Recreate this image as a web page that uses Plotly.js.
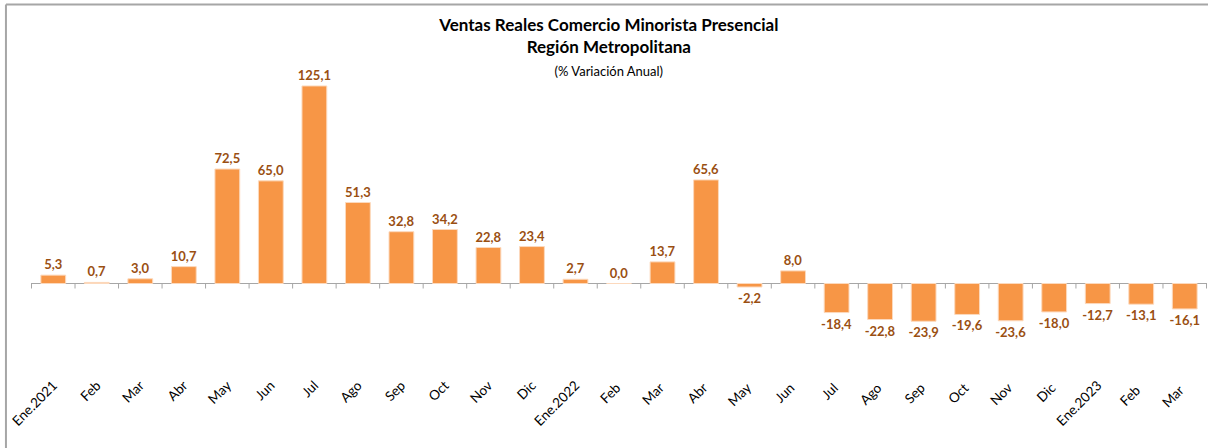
<!DOCTYPE html>
<html>
<head>
<meta charset="utf-8">
<script src="https://cdn.plot.ly/plotly-3.0.1.min.js"></script>
<style>html,body{margin:0;padding:0;background:#fff;}#chart{width:1208px;height:448px;}</style>
</head>
<body>
<div id="chart"></div>
<script>
const categories = ["Ene.2021","Feb","Mar","Abr","May","Jun","Jul","Ago","Sep","Oct","Nov","Dic",
  "Ene.2022","Feb ","Mar ","Abr ","May ","Jun ","Jul ","Ago ","Sep ","Oct ","Nov ","Dic ",
  "Ene.2023","Feb  ","Mar  "];
const values = [5.3,0.7,3.0,10.7,72.5,65.0,125.1,51.3,32.8,34.2,22.8,23.4,
  2.7,0.0,13.7,65.6,-2.2,8.0,-18.4,-22.8,-23.9,-19.6,-23.6,-18.0,
  -12.7,-13.1,-16.1];
const labels = values.map(v => v.toFixed(1).replace('.', ','));

const trace = {
  type: 'bar',
  x: categories,
  y: values,
  text: labels,
  textposition: 'outside',
  constraintext: 'none',
  cliponaxis: false,
  textfont: {family: 'Lato, "Open Sans", sans-serif', size: 13, color: '#9A4F12', weight: 'bold'},
  marker: {color: '#F79646', line: {color: '#FCD9BD', width: 1}},
  hoverinfo: 'x+y'
};

const tickShapes = [];
for (let i = 0; i <= categories.length; i++) {
  tickShapes.push({
    type: 'line', xref: 'x', yref: 'y', x0: i - 0.5, x1: i - 0.5,
    ysizemode: 'pixel', yanchor: 0, y0: 0, y1: -5,
    line: {color: '#A6A6A6', width: 1}
  });
}
const borderShapes = [
  {type:'line', xref:'paper', yref:'paper', x0:-0.0213, x1:1.01, y0:1.2198, y1:1.2198, line:{color:'#A6A6A6', width:2}},
  {type:'line', xref:'paper', yref:'paper', x0:-0.0213, x1:-0.0213, y0:1.2198, y1:-0.3, line:{color:'#A6A6A6', width:2}}
];

const layout = {
  width: 1208, height: 448,
  margin: {l: 31, r: 1, t: 70, b: 80},
  paper_bgcolor: '#fff', plot_bgcolor: '#fff',
  separators: ',.',
  showlegend: false,
  bargap: 0.43,
  font: {family: 'Lato, "Open Sans", sans-serif', color: '#000'},
  title: {
    text: '<b>Ventas Reales Comercio Minorista Presencial<br>Región Metropolitana</b><br><span style="font-size:13px">(% Variación Anual)</span>',
    font: {family: 'Lato, "Open Sans", sans-serif', size: 17, color: '#000'},
    x: 0.504, xref: 'container', xanchor: 'center',
    y: 0.93, yref: 'container', yanchor: 'top'
  },
  xaxis: {
    type: 'category',
    tickangle: -45,
    tickfont: {size: 13.5, color: '#000'},
    ticklabelstandoff: 6,
    showline: false, ticks: '', showgrid: false, zeroline: false,
    automargin: false
  },
  yaxis: {
    range: [-53.5, 135.2],
    showticklabels: false, showgrid: false, ticks: '',
    zeroline: true, zerolinecolor: '#A6A6A6', zerolinewidth: 1,
    showline: false, fixedrange: true
  },
  shapes: tickShapes.concat(borderShapes)
};

Plotly.newPlot('chart', [trace], layout, {displayModeBar: false, staticPlot: true});
</script>
</body>
</html>
